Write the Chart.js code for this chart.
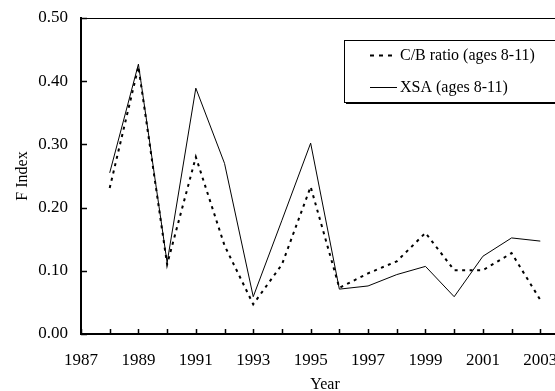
<!DOCTYPE html>
<html>
<head>
<meta charset="utf-8">
<script src="https://cdn.jsdelivr.net/npm/chart.js@4"></script>
<style>
  html, body { margin: 0; padding: 0; background: #fff; overflow: hidden; }
  #wrap { width: 555px; height: 391px; overflow: hidden; }
  #graph { display: block; }
</style>
</head>
<body>
<div id="wrap"><canvas id="graph" width="570" height="391"></canvas></div>
<script>
// === DONNEES ===
const years = [1988, 1989, 1990, 1991, 1992, 1993, 1994, 1995, 1996, 1997, 1998, 1999, 2000, 2001, 2002, 2003];
const cbRatio = [0.231, 0.423, 0.110, 0.280, 0.140, 0.047, 0.110, 0.233, 0.073, 0.096, 0.115, 0.160, 0.101, 0.101, 0.128, 0.054];
const xsa = [0.255, 0.427, 0.113, 0.389, 0.270, 0.059, 0.180, 0.302, 0.071, 0.076, 0.094, 0.107, 0.059, 0.123, 0.152, 0.147];
const yTicks = [0.0, 0.1, 0.2, 0.3, 0.4, 0.5];
const seriesNames = ["C/B ratio (ages 8-11)", "XSA (ages 8-11)"];

const serif = "'Liberation Serif', 'Times New Roman', serif";

// === TICKS INTERIEURS + CADRE + LEGENDE ===
const cadrePlugin = {
  id: "cadre",
  afterDraw(chart) {
    const ctx = chart.ctx;
    const a = chart.chartArea;
    const xs = chart.scales.x;
    const ys = chart.scales.y;
    ctx.save();
    ctx.strokeStyle = "#000";
    // ligne du haut
    ctx.lineWidth = 1;
    ctx.beginPath();
    ctx.moveTo(a.left, a.top + 0.5);
    ctx.lineTo(a.right, a.top + 0.5);
    ctx.stroke();
    // ticks vers l'intérieur
    ctx.lineWidth = 1.5;
    ctx.beginPath();
    for (let yr = 1987; yr <= 2004; yr++) {
      const px = Math.round(xs.getPixelForValue(yr)) + 0.5;
      ctx.moveTo(px, a.bottom);
      ctx.lineTo(px, a.bottom - 5);
    }
    yTicks.forEach(v => {
      const py = Math.round(ys.getPixelForValue(v)) + 0.5;
      ctx.moveTo(a.left, py);
      ctx.lineTo(a.left + 6, py);
    });
    ctx.stroke();

    // légende
    const bx = 344, by = 40, bw = 240, bh = 62;
    ctx.fillStyle = "#000";
    ctx.fillRect(bx + 2, by + 2, bw, bh);
    ctx.fillStyle = "#fff";
    ctx.fillRect(bx, by, bw, bh);
    ctx.lineWidth = 1;
    ctx.strokeRect(bx + 0.5, by + 0.5, bw, bh);

    const rows = [55, 87];
    chart.data.datasets.forEach((ds, i) => {
      const y = rows[i] + 0.5;
      ctx.strokeStyle = ds.borderColor;
      ctx.lineWidth = ds.borderWidth;
      ctx.setLineDash(i === 0 ? [4, 5] : []);
      ctx.beginPath();
      ctx.moveTo(370, y);
      ctx.lineTo(397, y);
      ctx.stroke();
      ctx.setLineDash([]);
      ctx.fillStyle = "#000";
      ctx.font = "16px " + serif;
      ctx.textBaseline = "middle";
      ctx.textAlign = "left";
      ctx.fillText(ds.label, 400, rows[i] + 1);
    });
    ctx.restore();
  }
};

// === GRAPHIQUE ===
const ctx = document.getElementById("graph").getContext("2d");
new Chart(ctx, {
  type: "line",
  data: {
    datasets: [
      {
        label: seriesNames[0],
        data: years.map((y, i) => ({ x: y, y: cbRatio[i] })),
        borderColor: "#000",
        borderWidth: 2,
        borderDash: [3, 4.5],
        pointRadius: 0,
        tension: 0,
        fill: false
      },
      {
        label: seriesNames[1],
        data: years.map((y, i) => ({ x: y, y: xsa[i] })),
        borderColor: "#000",
        borderWidth: 1,
        pointRadius: 0,
        tension: 0,
        fill: false
      }
    ]
  },
  options: {
    responsive: false,
    animation: false,
    devicePixelRatio: 1,
    layout: { padding: { top: 18, right: 1, left: 0, bottom: 0 } },
    plugins: { legend: { display: false }, tooltip: { enabled: false } },
    scales: {
      x: {
        type: "linear",
        min: 1987,
        max: 2004,
        grid: { display: false, drawTicks: false },
        border: { display: true, color: "#000", width: 2 },
        afterFit: s => {
          s.height = 57;
          s.paddingLeft = 0;
          s.paddingRight = 0;
        },
        ticks: {
          stepSize: 1,
          autoSkip: false,
          maxRotation: 0,
          padding: 16,
          color: "#000",
          font: { family: serif, size: 17 },
          callback: v => (v % 2 === 1 && v <= 2003 ? String(v) : "")
        },
        title: {
          display: true,
          text: "Year",
          color: "#000",
          font: { family: serif, size: 16 },
          padding: { top: 0, bottom: -3.5 }
        }
      },
      y: {
        min: 0,
        max: 0.5,
        grid: { display: false, drawTicks: false },
        border: { display: true, color: "#000", width: 2 },
        afterFit: s => {
          s.width = 81;
          s.paddingTop = 0;
          s.paddingBottom = 0;
        },
        ticks: {
          stepSize: 0.1,
          padding: 13,
          color: "#000",
          font: { family: serif, size: 17 },
          callback: v => v.toFixed(2)
        },
        title: {
          display: true,
          text: "F Index",
          color: "#000",
          font: { family: serif, size: 16 },
          padding: { top: 13, bottom: 0 }
        }
      }
    }
  },
  plugins: [cadrePlugin]
});
</script>
</body>
</html>
